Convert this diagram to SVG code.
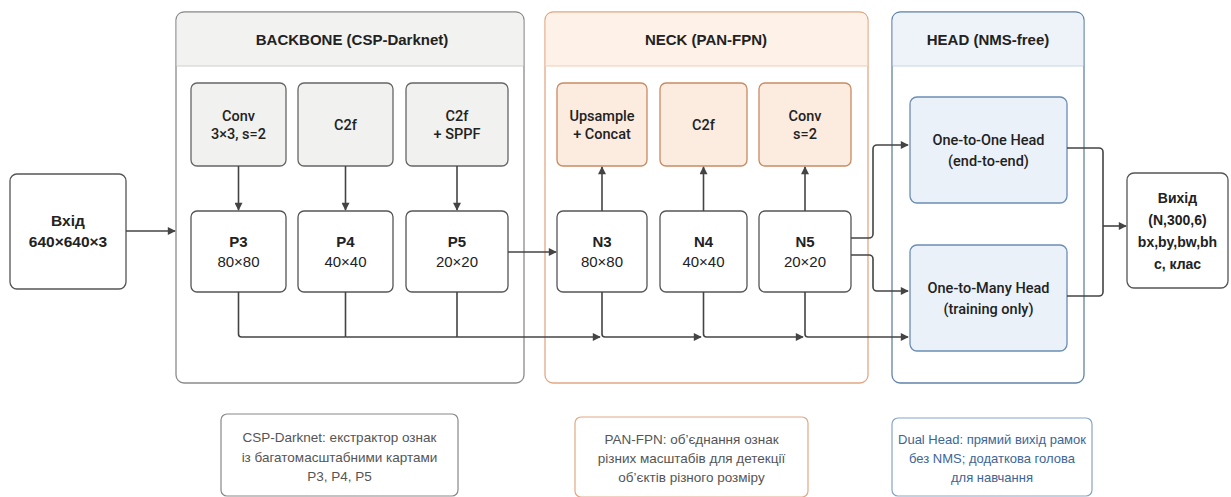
<svg xmlns="http://www.w3.org/2000/svg" width="1231" height="497" viewBox="0 0 1231 497">
<style>
text{font-family:"Liberation Sans",Arial,sans-serif;text-anchor:middle;fill:#222}
.hd{font-size:15px;font-weight:bold}
.b{font-size:15px;font-weight:bold}
.ob{font-size:14px;font-weight:bold}
.r{font-size:15px}
.m{font-family:Roboto,"Liberation Sans",sans-serif;font-size:14.5px;font-weight:500}
.n{font-size:13.5px;fill:#555}
.nb{font-size:13px;fill:#3d6596}
.box{fill:#fff;stroke:#555;stroke-width:1.3}
.gbox{fill:#f1f1ef;stroke:#666;stroke-width:1.3}
.obox{fill:#fcece0;stroke:#c98a62;stroke-width:1.3}
.hbox{fill:#eaf1f9;stroke:#6b8db4;stroke-width:1.3}
.c{fill:none;stroke:#444;stroke-width:1.6;stroke-linejoin:round}
.a{marker-end:url(#ah)}
</style>
<defs>
<marker id="ah" viewBox="0 0 10 10" refX="9" refY="5" markerWidth="10" markerHeight="8" markerUnits="userSpaceOnUse" orient="auto">
<path d="M0,0 L10,5 L0,10 z" fill="#444"/>
</marker>
</defs>
<rect width="1231" height="497" fill="#fff"/>

<g id="backbone">
<rect x="176" y="12" width="348" height="371" rx="8" fill="#fff" stroke="#8a8a8a" stroke-width="1.3"/>
<path d="M176.7,66 V20 a7.3,7.3 0 0 1 7.3,-7.3 H516 a7.3,7.3 0 0 1 7.3,7.3 V66 Z" fill="#f2f2f0"/>
<line x1="177" y1="66" x2="523" y2="66" stroke="#cfcfcc" stroke-width="1.2"/>
<text class="hd" x="352" y="45">BACKBONE (CSP-Darknet)</text>
</g>
<g id="neck">
<rect x="545" y="12" width="323" height="371" rx="8" fill="#fff" stroke="#e2a884" stroke-width="1.3"/>
<path d="M545.7,66 V20 a7.3,7.3 0 0 1 7.3,-7.3 H860 a7.3,7.3 0 0 1 7.3,7.3 V66 Z" fill="#fdf1e8"/>
<line x1="546" y1="66" x2="867" y2="66" stroke="#f0cdb4" stroke-width="1.2"/>
<text class="hd" x="706" y="45">NECK (PAN-FPN)</text>
</g>
<g id="head">
<rect x="892" y="12" width="192" height="371" rx="8" fill="#fff" stroke="#6283aa" stroke-width="1.3"/>
<path d="M892.7,66 V20 a7.3,7.3 0 0 1 7.3,-7.3 H1076 a7.3,7.3 0 0 1 7.3,7.3 V66 Z" fill="#eef3f9"/>
<line x1="893" y1="66" x2="1083" y2="66" stroke="#c9d6e6" stroke-width="1.2"/>
<text class="hd" x="988" y="45">HEAD (NMS-free)</text>
</g>

<g id="input">
<rect class="box" x="10" y="174" width="116" height="115" rx="7" stroke="#444"/>
<text class="b" x="68" y="226" style="font-size:15.5px">Вхід</text>
<text class="b" x="68" y="247" style="font-size:15.5px">640×640×3</text>
</g>

<g id="conv1"><rect class="gbox" x="191" y="83" width="95" height="83" rx="6"/>
<text class="m" x="238.5" y="120.5">Conv</text><text class="m" x="238.5" y="139">3×3, s=2</text></g>
<g id="c2f1"><rect class="gbox" x="298" y="83" width="95" height="83" rx="6"/>
<text class="m" x="345.5" y="130">C2f</text></g>
<g id="sppf"><rect class="gbox" x="406" y="83" width="102" height="83" rx="6"/>
<text class="m" x="457" y="120.5">C2f</text><text class="m" x="457" y="139">+ SPPF</text></g>

<g id="p3"><rect class="box" x="191" y="211" width="95" height="81" rx="6"/>
<text class="b" x="238.5" y="247">P3</text><text class="r" x="238.5" y="267">80×80</text></g>
<g id="p4"><rect class="box" x="298" y="211" width="95" height="81" rx="6"/>
<text class="b" x="345.5" y="247">P4</text><text class="r" x="345.5" y="267">40×40</text></g>
<g id="p5"><rect class="box" x="406" y="211" width="102" height="81" rx="6"/>
<text class="b" x="457" y="247">P5</text><text class="r" x="457" y="267">20×20</text></g>

<g id="upsample"><rect class="obox" x="557" y="83" width="90" height="83" rx="6"/>
<text class="m" x="602" y="120.5">Upsample</text><text class="m" x="602" y="139">+ Concat</text></g>
<g id="c2f2"><rect class="obox" x="660" y="83" width="87" height="83" rx="6"/>
<text class="m" x="703.5" y="130">C2f</text></g>
<g id="conv2"><rect class="obox" x="759" y="83" width="92" height="83" rx="6"/>
<text class="m" x="805" y="120.5">Conv</text><text class="m" x="805" y="139">s=2</text></g>

<g id="n3"><rect class="box" x="557" y="211" width="90" height="81" rx="6"/>
<text class="b" x="602" y="247">N3</text><text class="r" x="602" y="267">80×80</text></g>
<g id="n4"><rect class="box" x="660" y="211" width="87" height="81" rx="6"/>
<text class="b" x="703.5" y="247">N4</text><text class="r" x="703.5" y="267">40×40</text></g>
<g id="n5"><rect class="box" x="759" y="211" width="92" height="81" rx="6"/>
<text class="b" x="805" y="247">N5</text><text class="r" x="805" y="267">20×20</text></g>

<g id="o2o"><rect class="hbox" x="910" y="97" width="157" height="106" rx="7"/>
<text class="m" x="988.5" y="145">One-to-One Head</text><text class="m" x="988.5" y="166">(end-to-end)</text></g>
<g id="o2m"><rect class="hbox" x="910" y="245" width="157" height="106" rx="7"/>
<text class="m" x="988.5" y="293">One-to-Many Head</text><text class="m" x="988.5" y="314">(training only)</text></g>

<g id="output">
<rect class="box" x="1127" y="173" width="101" height="115" rx="7" stroke="#444"/>
<text class="ob" x="1177.5" y="203">Вихід</text>
<text class="ob" x="1177.5" y="225">(N,300,6)</text>
<text class="ob" x="1177.5" y="247">bx,by,bw,bh</text>
<text class="ob" x="1177.5" y="269">с, клас</text>
</g>

<g id="connectors">
<path class="c a" d="M126,231 H175"/>
<path class="c a" d="M238.5,166 V210"/>
<path class="c a" d="M345.5,166 V210"/>
<path class="c a" d="M457,166 V210"/>
<path class="c a" d="M508,252 H556"/>
<path class="c" d="M238.5,292 V334 a3,3 0 0 0 3,3 H345.5 M345.5,292 V337 M457,292 V337"/>
<path class="c a" d="M345.5,337 H600"/>
<path class="c a" d="M602,292 V334 a3,3 0 0 0 3,3 H701"/>
<path class="c a" d="M703.5,292 V334 a3,3 0 0 0 3,3 H803"/>
<path class="c a" d="M805,292 V334 a3,3 0 0 0 3,3 H908"/>
<path class="c a" d="M602,211 V167"/>
<path class="c a" d="M703.5,211 V167"/>
<path class="c a" d="M805,211 V167"/>
<path class="c a" d="M851,238 H869 a4,4 0 0 0 4,-4 V149 a4,4 0 0 1 4,-4 H908"/>
<path class="c a" d="M851,255 H869 a4,4 0 0 1 4,4 V287 a4,4 0 0 0 4,4 H908"/>
<path class="c" d="M1067,148 H1099 a4,4 0 0 1 4,4 V292 a4,4 0 0 1 -4,4 H1067"/>
<path class="c a" d="M1103,226 H1126"/>
</g>

<g id="note-backbone">
<rect x="221" y="414" width="237" height="82" rx="6" fill="#fff" stroke="#888" stroke-width="1.2"/>
<text class="n" x="339.5" y="442">CSP-Darknet: екстрактор ознак</text>
<text class="n" x="339.5" y="462">із багатомасштабними картами</text>
<text class="n" x="339.5" y="481">P3, P4, P5</text>
</g>
<g id="note-neck">
<rect x="575" y="417" width="233" height="80" rx="6" fill="#fff" stroke="#e2a884" stroke-width="1.2"/>
<text class="n" x="691.5" y="444">PAN-FPN: об’єднання ознак</text>
<text class="n" x="691.5" y="463">різних масштабів для детекції</text>
<text class="n" x="691.5" y="482">об’єктів різного розміру</text>
</g>
<g id="note-head">
<rect x="892" y="418" width="200" height="78" rx="6" fill="#fff" stroke="#86a3c8" stroke-width="1.2"/>
<text class="nb" x="992" y="444">Dual Head: прямий вихід рамок</text>
<text class="nb" x="992" y="463">без NMS; додаткова голова</text>
<text class="nb" x="992" y="482">для навчання</text>
</g>
</svg>
